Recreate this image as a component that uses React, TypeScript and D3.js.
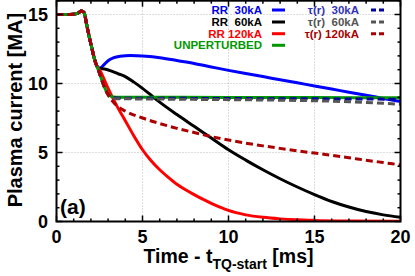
import React from 'react';
import * as d3 from 'd3';

// shared early drop (all cases coincide up to here)
const commonDrop: [number, number][] = [
  [0, 15], [0.5, 15], [1.0, 15.02], [1.25, 15.1], [1.45, 15.25], [1.6, 15.15],
  [1.75, 14.3], [1.9, 13.4], [2.05, 12.6], [2.2, 11.8], [2.35, 11.25],
];

const rr30Tail: [number, number][] = [
  [2.5, 11.1], [2.75, 11.35], [3.0, 11.65], [3.3, 11.85], [3.7, 11.97], [4.3, 12.02],
  [5, 12.0], [6, 11.87], [7, 11.66], [8, 11.45], [9, 11.2], [10, 10.95], [11, 10.72],
  [12, 10.5], [13, 10.27], [14, 10.05], [15, 9.82], [16, 9.6], [17, 9.37], [18, 9.15],
  [19, 8.92], [20, 8.7],
];
const rr60Tail: [number, number][] = [
  [2.5, 11.1], [2.8, 11.05], [3.2, 10.9], [3.6, 10.7], [4.0, 10.5], [4.5, 10.1],
  [5, 9.65], [5.5, 9.15], [6, 8.65], [7, 7.75], [8, 6.9], [9, 6.05], [10, 5.2],
  [11, 4.45], [12, 3.75], [13, 3.1], [14, 2.5], [15, 1.95], [16, 1.45], [17, 1.05],
  [18, 0.72], [19, 0.48], [20, 0.3],
];
const rr120Tail: [number, number][] = [
  [2.5, 11.0], [3.0, 9.65], [3.5, 8.4], [4.0, 7.3], [4.5, 6.2], [5, 5.2], [5.5, 4.4],
  [6, 3.75], [6.5, 3.2], [7, 2.7], [7.5, 2.3], [8, 1.95], [8.5, 1.62], [9, 1.32],
  [9.5, 1.05], [10, 0.8], [11, 0.48], [12, 0.3], [13, 0.19], [14, 0.12], [15, 0.08],
  [17, 0.04], [20, 0.02],
];
const unpertTail: [number, number][] = [
  [2.5, 10.75], [2.65, 10.2], [2.8, 9.7], [2.95, 9.35], [3.1, 9.12], [3.3, 9.03],
  [3.6, 9.0], [5, 9.0], [10, 8.99], [15, 8.98], [20, 8.96],
];
const tau30Tail: [number, number][] = [
  [2.5, 10.75], [2.65, 10.2], [2.8, 9.7], [2.95, 9.3], [3.1, 9.07], [3.3, 8.97],
  [3.6, 8.94], [6, 8.93], [10, 8.91], [15, 8.89], [20, 8.86],
];
const tau60Tail: [number, number][] = [
  [2.5, 10.75], [2.65, 10.2], [2.8, 9.68], [2.95, 9.28], [3.1, 9.02], [3.3, 8.92],
  [3.6, 8.9], [6, 8.87], [10, 8.83], [15, 8.75], [17, 8.68], [20, 8.5],
];
const tau120Tail: [number, number][] = [
  [2.5, 10.75], [2.65, 10.2], [2.8, 9.7], [3.0, 9.2], [3.3, 8.65], [3.66, 8.25],
  [4, 8.0], [5, 7.5], [6, 7.1], [7, 6.75], [8, 6.45], [9, 6.15], [10, 5.9], [11, 5.68],
  [12, 5.48], [13, 5.3], [14, 5.12], [15, 4.96], [16, 4.79], [17, 4.62], [18, 4.44],
  [19, 4.27], [20, 4.1],
];

const seriesNames = ['RR  30kA', 'RR  60kA', 'RR 120kA', 'UNPERTURBED', 'τ(r)  30kA', 'τ(r)  60kA', 'τ(r) 120kA'];
const seriesTails = [rr30Tail, rr60Tail, rr120Tail, unpertTail, tau30Tail, tau60Tail, tau120Tail];
const lineColors = ['#0000ff', '#000000', '#ff0000', '#009900', '#0000a0', '#555555', '#aa0000'];
const textColors = ['#0000ee', '#000000', '#ff0000', '#009900', '#3333bb', '#555555', '#aa0000'];
const dashed = [false, false, false, false, true, true, true];

const xTicks = [0, 5, 10, 15, 20];
const yTicks = [0, 5, 10, 15];

const W = 415;
const H = 276;
const FONT = '"Liberation Sans", Arial, Helvetica, sans-serif';

const App: React.FC = () => {
  const x = d3.scaleLinear().domain([0, 20]).range([56.5, 400.5]);
  const y = d3.scaleLinear().domain([0, 16]).range([221.5, 0.7]);
  const [x0, x1] = x.range();
  const [yb, yt] = y.range();

  const line = d3.line<[number, number]>()
    .x(d => x(d[0]))
    .y(d => y(d[1]))
    .curve(d3.curveMonotoneX);

  const xMinor = d3.range(0, 21, 1);
  const yMinor = d3.range(0, 17, 1);

  // legend rows (centre y of each row)
  const legRowsY = [10, 22, 33.7, 45.3];

  return (
    <svg width={W} height={H} style={{ position: 'absolute', left: 0, top: 0 }} fontFamily={FONT} fontWeight="bold">
      <defs>
        <clipPath id="plot">
          <rect x={x0} y={yt} width={x1 - x0} height={yb - yt} />
        </clipPath>
      </defs>
      <rect width={W} height={H} fill="#fff" />

      {/* grid */}
      {xTicks.slice(1, -1).map(t => (
        <line key={'gx' + t} x1={x(t)} x2={x(t)} y1={yb} y2={yt} stroke="#bbbbbb" strokeWidth={1} strokeDasharray="1,2" />
      ))}
      {yTicks.slice(1).map(t => (
        <line key={'gy' + t} x1={x0} x2={x1} y1={y(t)} y2={y(t)} stroke="#bbbbbb" strokeWidth={1} strokeDasharray="1,2" />
      ))}

      {/* curves, drawn in legend order */}
      <g clipPath="url(#plot)">
        {seriesTails.map((tail, i) => (
          <path key={'s' + i} d={line([...commonDrop, ...tail]) || ''} fill="none"
            stroke={lineColors[i]} strokeWidth={3} strokeDasharray={dashed[i] ? '7,4' : undefined} />
        ))}
      </g>

      {/* minor + major ticks, inward on all sides */}
      {xMinor.map(t => {
        const len = t % 5 === 0 ? 6 : 3;
        return (
          <g key={'tx' + t}>
            <line x1={x(t)} x2={x(t)} y1={yb} y2={yb - len} stroke="#000" strokeWidth={1.5} />
            <line x1={x(t)} x2={x(t)} y1={yt} y2={yt + len} stroke="#000" strokeWidth={1.5} />
          </g>
        );
      })}
      {yMinor.map(t => {
        const len = t % 5 === 0 ? 6 : 3;
        return (
          <g key={'ty' + t}>
            <line x1={x0} x2={x0 + len} y1={y(t)} y2={y(t)} stroke="#000" strokeWidth={1.5} />
            <line x1={x1} x2={x1 - len} y1={y(t)} y2={y(t)} stroke="#000" strokeWidth={1.5} />
          </g>
        );
      })}

      {/* frame */}
      <rect x={x0} y={yt} width={x1 - x0} height={yb - yt} fill="none" stroke="#000" strokeWidth={2} />

      {/* tick labels */}
      {xTicks.map(t => (
        <text key={'lx' + t} x={x(t)} y={243} textAnchor="middle" fontSize={18}>{t}</text>
      ))}
      {yTicks.map(t => (
        <text key={'ly' + t} x={48} y={y(t) + 6.3} textAnchor="end" fontSize={18}>{t}</text>
      ))}

      {/* axis titles */}
      <text x={(x0 + x1) / 2} y={263} textAnchor="middle" fontSize={19.5}>
        Time - t<tspan fontSize={14} dy={6}>TQ-start</tspan><tspan dy={-6}> [ms]</tspan>
      </text>
      <text transform={`translate(22,${(yb + yt) / 2 - 1}) rotate(-90)`} textAnchor="middle" fontSize={20}>
        Plasma current [MA]
      </text>

      {/* panel label */}
      <text x={60} y={214} fontSize={21}>(a)</text>

      {/* legend */}
      {seriesNames.map((name, i) => {
        const col = i < 4 ? 0 : 1;
        const row = col === 0 ? i : i - 4;
        const ly = legRowsY[row];
        const textX = col === 0 ? 262 : 359;
        const sx0 = col === 0 ? 272 : 371;
        const sx1 = col === 0 ? 285 : 384;
        return (
          <g key={'leg' + i}>
            <text x={textX} y={ly + 4} textAnchor="end" fontSize={11.5} fill={textColors[i]} style={{ whiteSpace: 'pre' }}>
              {name}
            </text>
            <line x1={sx0} x2={sx1} y1={ly} y2={ly} stroke={lineColors[i]} strokeWidth={3}
              strokeDasharray={dashed[i] ? '5,3' : undefined} />
          </g>
        );
      })}
    </svg>
  );
};

export default App;
